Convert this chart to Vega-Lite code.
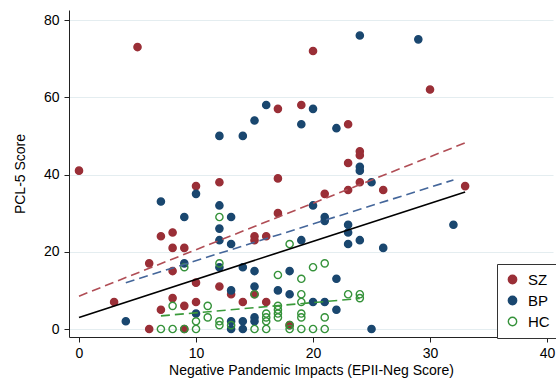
{
  "$schema": "https://vega.github.io/schema/vega-lite/v6.json",
  "width": 484,
  "height": 327,
  "autosize": {"type": "none"},
  "padding": {"left": 69, "top": 10, "right": 3, "bottom": 42},
  "background": "white",
  "config": {
    "view": {"stroke": null},
    "font": "Liberation Sans",
    "axis": {
      "labelFont": "Liberation Sans",
      "titleFont": "Liberation Sans",
      "labelFontSize": 14,
      "titleFontSize": 14,
      "titleFontWeight": "normal",
      "labelColor": "#000000",
      "titleColor": "#000000",
      "domainColor": "#222222",
      "tickColor": "#222222",
      "tickSize": 5,
      "domainWidth": 1,
      "tickWidth": 1
    }
  },
  "datasets": {
    "pts": [
      {"group": "SZ", "x": 0, "y": 41}, {"group": "SZ", "x": 3, "y": 7}, {"group": "SZ", "x": 5, "y": 73},
      {"group": "SZ", "x": 6, "y": 17}, {"group": "SZ", "x": 6, "y": 0}, {"group": "SZ", "x": 7, "y": 24},
      {"group": "SZ", "x": 7, "y": 5}, {"group": "SZ", "x": 8, "y": 25}, {"group": "SZ", "x": 8, "y": 21},
      {"group": "SZ", "x": 8, "y": 15}, {"group": "SZ", "x": 8, "y": 8}, {"group": "SZ", "x": 9, "y": 21},
      {"group": "SZ", "x": 9, "y": 6}, {"group": "SZ", "x": 9, "y": 0}, {"group": "SZ", "x": 10, "y": 37},
      {"group": "SZ", "x": 10, "y": 12}, {"group": "SZ", "x": 10, "y": 7}, {"group": "SZ", "x": 12, "y": 38},
      {"group": "SZ", "x": 12, "y": 11}, {"group": "SZ", "x": 13, "y": 9}, {"group": "SZ", "x": 14, "y": 7},
      {"group": "SZ", "x": 15, "y": 24}, {"group": "SZ", "x": 15, "y": 23}, {"group": "SZ", "x": 15, "y": 9},
      {"group": "SZ", "x": 16, "y": 24}, {"group": "SZ", "x": 16, "y": 7}, {"group": "SZ", "x": 17, "y": 57},
      {"group": "SZ", "x": 17, "y": 39}, {"group": "SZ", "x": 17, "y": 30}, {"group": "SZ", "x": 18, "y": 1},
      {"group": "SZ", "x": 19, "y": 58}, {"group": "SZ", "x": 20, "y": 72}, {"group": "SZ", "x": 21, "y": 35},
      {"group": "SZ", "x": 23, "y": 53}, {"group": "SZ", "x": 23, "y": 43}, {"group": "SZ", "x": 23, "y": 36},
      {"group": "SZ", "x": 24, "y": 46}, {"group": "SZ", "x": 24, "y": 45}, {"group": "SZ", "x": 24, "y": 38},
      {"group": "SZ", "x": 26, "y": 36}, {"group": "SZ", "x": 30, "y": 62}, {"group": "SZ", "x": 33, "y": 37},
      {"group": "BP", "x": 4, "y": 2}, {"group": "BP", "x": 7, "y": 33}, {"group": "BP", "x": 9, "y": 29},
      {"group": "BP", "x": 9, "y": 17}, {"group": "BP", "x": 10, "y": 35}, {"group": "BP", "x": 10, "y": 4},
      {"group": "BP", "x": 12, "y": 50}, {"group": "BP", "x": 12, "y": 32}, {"group": "BP", "x": 12, "y": 26},
      {"group": "BP", "x": 12, "y": 23}, {"group": "BP", "x": 12, "y": 16}, {"group": "BP", "x": 13, "y": 29},
      {"group": "BP", "x": 13, "y": 22}, {"group": "BP", "x": 13, "y": 10}, {"group": "BP", "x": 13, "y": 2},
      {"group": "BP", "x": 13, "y": 0}, {"group": "BP", "x": 14, "y": 50}, {"group": "BP", "x": 14, "y": 16},
      {"group": "BP", "x": 14, "y": 2}, {"group": "BP", "x": 14, "y": 0}, {"group": "BP", "x": 15, "y": 54},
      {"group": "BP", "x": 15, "y": 15}, {"group": "BP", "x": 15, "y": 11}, {"group": "BP", "x": 15, "y": 3},
      {"group": "BP", "x": 15, "y": 2}, {"group": "BP", "x": 16, "y": 58}, {"group": "BP", "x": 17, "y": 10},
      {"group": "BP", "x": 18, "y": 15}, {"group": "BP", "x": 18, "y": 9}, {"group": "BP", "x": 19, "y": 53},
      {"group": "BP", "x": 19, "y": 23}, {"group": "BP", "x": 20, "y": 57}, {"group": "BP", "x": 20, "y": 32},
      {"group": "BP", "x": 20, "y": 7}, {"group": "BP", "x": 21, "y": 29}, {"group": "BP", "x": 21, "y": 28},
      {"group": "BP", "x": 21, "y": 7}, {"group": "BP", "x": 22, "y": 52}, {"group": "BP", "x": 22, "y": 13},
      {"group": "BP", "x": 22, "y": 5}, {"group": "BP", "x": 23, "y": 27}, {"group": "BP", "x": 23, "y": 25},
      {"group": "BP", "x": 23, "y": 22}, {"group": "BP", "x": 24, "y": 76}, {"group": "BP", "x": 24, "y": 42},
      {"group": "BP", "x": 24, "y": 41}, {"group": "BP", "x": 24, "y": 23}, {"group": "BP", "x": 25, "y": 38},
      {"group": "BP", "x": 25, "y": 0}, {"group": "BP", "x": 26, "y": 21}, {"group": "BP", "x": 29, "y": 75},
      {"group": "BP", "x": 32, "y": 27},
      {"group": "HC", "x": 7, "y": 0}, {"group": "HC", "x": 8, "y": 6}, {"group": "HC", "x": 8, "y": 0},
      {"group": "HC", "x": 9, "y": 16}, {"group": "HC", "x": 9, "y": 0}, {"group": "HC", "x": 10, "y": 2},
      {"group": "HC", "x": 10, "y": 0}, {"group": "HC", "x": 11, "y": 6}, {"group": "HC", "x": 11, "y": 3},
      {"group": "HC", "x": 12, "y": 29}, {"group": "HC", "x": 12, "y": 17}, {"group": "HC", "x": 12, "y": 2},
      {"group": "HC", "x": 12, "y": 1}, {"group": "HC", "x": 13, "y": 1}, {"group": "HC", "x": 15, "y": 9},
      {"group": "HC", "x": 15, "y": 0}, {"group": "HC", "x": 16, "y": 4}, {"group": "HC", "x": 16, "y": 3},
      {"group": "HC", "x": 16, "y": 2}, {"group": "HC", "x": 16, "y": 0}, {"group": "HC", "x": 17, "y": 14},
      {"group": "HC", "x": 17, "y": 6}, {"group": "HC", "x": 17, "y": 5}, {"group": "HC", "x": 17, "y": 4},
      {"group": "HC", "x": 17, "y": 3}, {"group": "HC", "x": 18, "y": 22}, {"group": "HC", "x": 18, "y": 1},
      {"group": "HC", "x": 18, "y": 0}, {"group": "HC", "x": 19, "y": 13}, {"group": "HC", "x": 19, "y": 9},
      {"group": "HC", "x": 19, "y": 7}, {"group": "HC", "x": 19, "y": 4}, {"group": "HC", "x": 19, "y": 3},
      {"group": "HC", "x": 19, "y": 0}, {"group": "HC", "x": 20, "y": 16}, {"group": "HC", "x": 20, "y": 0},
      {"group": "HC", "x": 21, "y": 17}, {"group": "HC", "x": 21, "y": 3}, {"group": "HC", "x": 21, "y": 0},
      {"group": "HC", "x": 23, "y": 9}, {"group": "HC", "x": 24, "y": 9}, {"group": "HC", "x": 24, "y": 8}
    ],
    "fits": [
      {"fit": "All", "x": 0, "y": 3}, {"fit": "All", "x": 33, "y": 35.5},
      {"fit": "SZ", "x": 0, "y": 8.5}, {"fit": "SZ", "x": 33, "y": 48.2},
      {"fit": "BP", "x": 4, "y": 12}, {"fit": "BP", "x": 32, "y": 38.6},
      {"fit": "HC", "x": 7, "y": 3.4}, {"fit": "HC", "x": 24, "y": 7.9}
    ]
  },
  "encoding": {
    "x": {
      "field": "x", "type": "quantitative",
      "scale": {"domain": [-0.855, 40.51], "nice": false, "zero": false},
      "axis": {"values": [0, 10, 20, 30, 40], "grid": false, "labelPadding": 4, "titlePadding": 3,
               "title": "Negative Pandemic Impacts (EPII-Neg Score)"}
    },
    "y": {
      "field": "y", "type": "quantitative",
      "scale": {"domain": [-2.07, 82.6], "nice": false, "zero": false},
      "axis": {"values": [0, 20, 40, 60, 80], "grid": true, "gridColor": "#e4edf0", "gridWidth": 1.2,
               "labelPadding": 5, "titlePadding": 16, "title": "PCL-5 Score"}
    }
  },
  "layer": [
    {
      "data": {"name": "pts"},
      "mark": {"type": "point", "size": 52, "strokeWidth": 1.4, "opacity": 1},
      "encoding": {
        "fill": {
          "field": "group", "type": "nominal",
          "scale": {"domain": ["SZ", "BP", "HC"], "range": ["#9a2f37", "#1a476f", "transparent"]},
          "legend": {"title": null, "orient": "none", "legendX": 428, "legendY": 254,
                     "padding": 8, "strokeColor": "#333333", "fillColor": "white",
                     "labelFontSize": 15, "labelColor": "#000000", "labelFont": "Liberation Sans",
                     "symbolSize": 70, "symbolStrokeWidth": 1.4, "rowPadding": 5, "labelOffset": 8}
        },
        "stroke": {
          "field": "group", "type": "nominal",
          "scale": {"domain": ["SZ", "BP", "HC"], "range": ["#9a2f37", "#1a476f", "#35923a"]},
          "legend": {"title": null, "orient": "none", "legendX": 428, "legendY": 254,
                     "padding": 8, "strokeColor": "#333333", "fillColor": "white",
                     "labelFontSize": 15, "labelColor": "#000000", "labelFont": "Liberation Sans",
                     "symbolSize": 70, "symbolStrokeWidth": 1.4, "rowPadding": 5, "labelOffset": 8}
        }
      }
    },
    {
      "data": {"name": "fits"},
      "transform": [{"filter": "datum.fit === 'All'"}],
      "mark": {"type": "line", "color": "#000000", "strokeWidth": 1.6},
      "encoding": {}
    },
    {
      "data": {"name": "fits"},
      "transform": [{"filter": "datum.fit === 'SZ'"}],
      "mark": {"type": "line", "color": "#b04d55", "strokeWidth": 1.6, "strokeDash": [9, 5]},
      "encoding": {}
    },
    {
      "data": {"name": "fits"},
      "transform": [{"filter": "datum.fit === 'BP'"}],
      "mark": {"type": "line", "color": "#44669a", "strokeWidth": 1.6, "strokeDash": [9, 5]},
      "encoding": {}
    },
    {
      "data": {"name": "fits"},
      "transform": [{"filter": "datum.fit === 'HC'"}],
      "mark": {"type": "line", "color": "#3a9a3a", "strokeWidth": 1.6, "strokeDash": [9, 5]},
      "encoding": {}
    }
  ]
}
